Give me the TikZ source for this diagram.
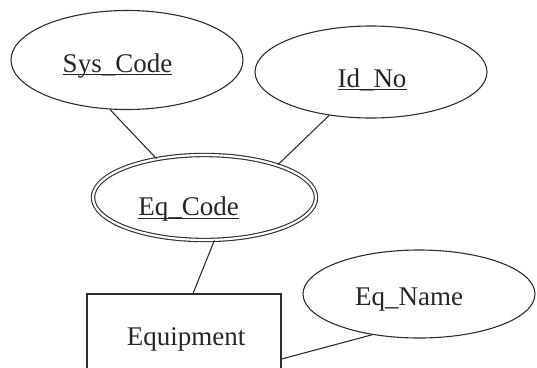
\documentclass[tikz,border=0pt]{standalone}
\usepackage{fontspec}
\setmainfont{Liberation Serif}
\usetikzlibrary{shapes.geometric,calc}

% key attribute: text with a rule beneath it
\newcommand\keyattr[1]{\setbox0\hbox{#1}\rlap{\rule[-3.2pt]{\wd0}{0.9pt}}\box0}

\tikzset{
  ink/.style={draw=black!82, line width=1.1pt},
  attrib/.style={ink, ellipse, inner sep=0pt},
  label/.style={anchor=base, inner sep=0pt, text=black!85,
    font=\fontsize{27}{30}\selectfont},
  link/.style={ink},
}

\begin{document}
\begin{tikzpicture}[x=1pt, y=-1pt]
  \useasboundingbox (0,0) rectangle (537,367);
  \clip (0,0) rectangle (537,367);

  % attribute ellipses
  \node[attrib, minimum width=232pt, minimum height=99pt] (sys) at (127,60) {};
  \node[attrib, minimum width=232pt, minimum height=92pt] (idno) at (371,72) {};
  \node[attrib, minimum width=232pt, minimum height=88pt] (eqname) at (419,294) {};
  % partial key: double outline
  \node[ellipse, inner sep=0pt, draw=black!82, line width=1.1pt,
        double=white, double distance=2.2pt,
        minimum width=223pt, minimum height=85pt] (eqcode) at (204.5,197.5) {};

  % entity
  \node[ink, rectangle, minimum width=194pt, minimum height=130pt, inner sep=0pt]
    (equip) at (184,359) {};

  % texts
  \node[label] (sys-t) at (117.5,72) {\keyattr{Sys\_Code}};
  \node[label] (idno-t) at (372,87) {\keyattr{Id\_No}};
  \node[label] (eqcode-t) at (188.5,215.5) {\keyattr{Eq\_Code}};
  \node[label] (eqname-t) at (409,305) {Eq\_Name};
  \node[label] (equip-t) at (186,345) {Equipment};

  % connectors
  \draw[link] (sys.-109) -- (eqcode.141);
  \draw[link] (idno.-134) -- (eqcode.24);
  \draw[link] (eqcode.-77.5) -- ([xshift=9pt]equip.north);
  \draw[link] (eqname.-139) -- (equip.east);
\end{tikzpicture}
\end{document}
